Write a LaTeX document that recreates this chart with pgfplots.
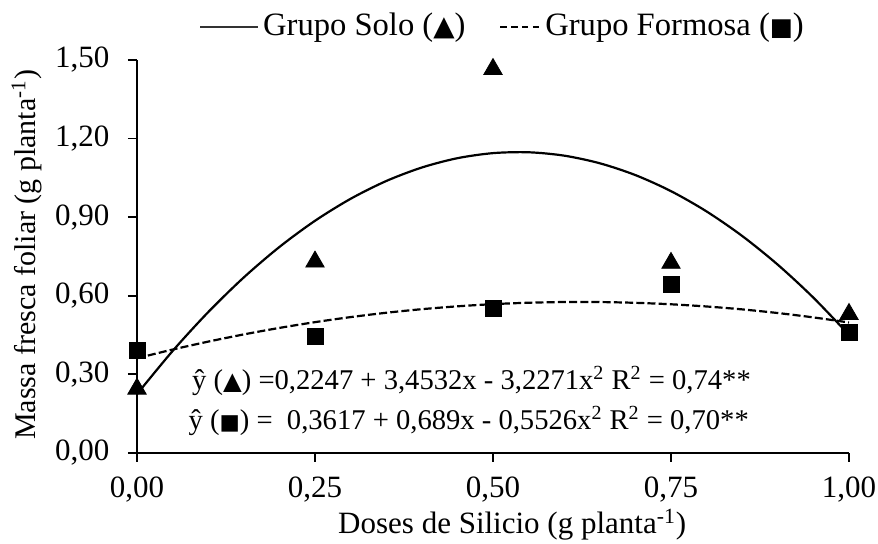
\documentclass[border=0pt]{standalone}
\usepackage{pgfplots}
\pgfplotsset{compat=1.18}
\usepackage{fontspec}
\setmainfont{Liberation Serif}
\newfontfamily\sym{DejaVu Sans}
\newcommand{\tri}{{\sym\scalebox{0.85}{▲}}}
\newcommand{\sq}{{\sym\scalebox{0.75}{■}}}
\begin{document}
\fontsize{15.5}{17}\selectfont
\begin{tikzpicture}
\useasboundingbox (-68.5pt,-45.5pt) rectangle (370.5pt,226.5pt);
\begin{axis}[
  at={(0pt,0pt)}, anchor=south west,
  width=356pt, height=196.5pt, scale only axis,
  xmin=0, xmax=1, ymin=0, ymax=1.5,
  axis lines=left, axis line style={-, line width=1pt},
  xtick={0,0.25,0.5,0.75,1}, ytick={0,0.3,0.6,0.9,1.2,1.5},
  tick style={line width=0.9pt, black},
  tick align=outside, major tick length=4.5pt,
  /pgf/number format/.cd, use comma, fixed, fixed zerofill, precision=2, assume math mode=true,
  /pgfplots/.cd,
  tick label style={font=\fontsize{15.5}{17}\selectfont},
  yticklabel style={xshift=-4pt},
  xticklabel style={yshift=-2pt},
  xlabel={Doses de Silicio (g planta\textsuperscript{-1})},
  ylabel={Massa fresca foliar (g planta\textsuperscript{-1})},
  xlabel style={font=\fontsize{15.5}{17}\selectfont, at={(axis description cs:0.527,-0.183)}, anchor=center},
  ylabel style={font=\fontsize{15}{17}\selectfont, at={(axis description cs:-0.1545,0.504)}, anchor=center},
  clip=false,
  legend style={draw=none, fill=none, at={(0.515,1)}, anchor=center, yshift=16.5pt, font=\fontsize{16.3}{18}\selectfont,
     /tikz/every even column/.append style={column sep=15pt}, inner sep=0pt},
  legend columns=2,
  legend cell align=left,
]
\addplot[black, line width=1.1pt, smooth,
  legend image code/.code={\draw[black!80, line width=0.8pt] (0pt,0pt) -- (29pt,0pt);}] coordinates {
(0,0.2247)(0.05,0.3893)(0.1,0.5377)(0.15,0.6701)(0.2,0.7863)(0.25,0.8863)(0.3,0.9702)(0.35,1.0380)(0.4,1.0896)(0.45,1.1252)(0.5,1.1445)(0.55,1.1478)(0.6,1.1349)(0.65,1.1058)(0.7,1.0607)(0.75,0.9994)(0.8,0.9219)(0.85,0.8283)(0.9,0.7186)(0.95,0.5928)(1.0,0.4508)};
\addlegendentry{Grupo Solo (\tri)}
\addplot[black, line width=1.1pt, smooth, dash pattern=on 4pt off 1.6pt,
  legend image code/.code={\draw[black, line width=0.9pt, dash pattern=on 3.2pt off 2.2pt] (0pt,0pt) -- (20pt,0pt);}] coordinates {
(0,0.3617)(0.05,0.3948)(0.1,0.4251)(0.15,0.4526)(0.2,0.4774)(0.25,0.4994)(0.3,0.5187)(0.35,0.5352)(0.4,0.5489)(0.45,0.5598)(0.5,0.5681)(0.55,0.5735)(0.6,0.5762)(0.65,0.5761)(0.7,0.5732)(0.75,0.5676)(0.8,0.5592)(0.85,0.5481)(0.9,0.5342)(0.95,0.5175)(1.0,0.4981)};
\addlegendentry{Grupo Formosa (\sq)}
\addplot[only marks, mark=triangle*, mark size=5.3pt, black, forget plot] coordinates {
(0,0.245)(0.25,0.73)(0.5,1.465)(0.75,0.725)(1,0.53)};
\addplot[only marks, mark=square*, mark size=4pt, black, forget plot] coordinates {
(0,0.39)(0.25,0.445)(0.5,0.55)(0.75,0.645)(1,0.46)};
\node[anchor=west, inner sep=0pt, font=\fontsize{14.3}{16}\selectfont] at (axis cs:0.077,0.275) {ŷ (\tri) =0,2247 + 3,4532x - 3,2271x\textsuperscript{2} R\textsuperscript{2} = 0,74**};
\node[anchor=west, inner sep=0pt, font=\fontsize{14.3}{16}\selectfont] at (axis cs:0.072,0.122) {ŷ (\sq) = \ 0,3617 + 0,689x - 0,5526x\textsuperscript{2} R\textsuperscript{2} = 0,70**};
\end{axis}
\end{tikzpicture}
\end{document}
